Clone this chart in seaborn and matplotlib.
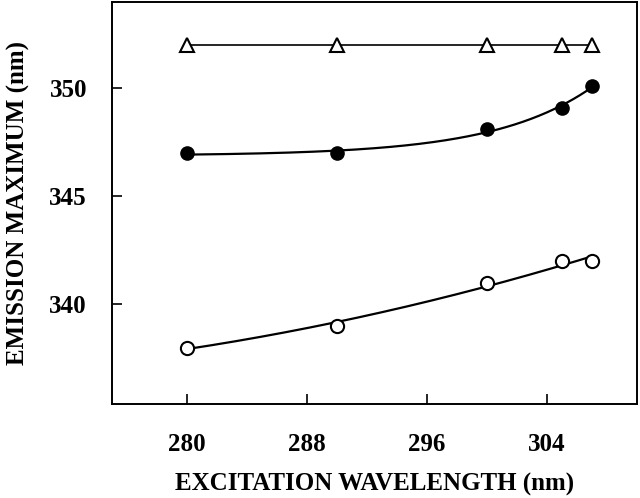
import numpy as np
import pandas as pd
import matplotlib
matplotlib.use("Agg")
import matplotlib.pyplot as plt
import seaborn as sns

# excitation wavelengths (nm) and emission maxima (nm)
excitation = [280, 290, 300, 305, 307]
em_triangle = [352, 352, 352, 352, 352]
em_filled = [347, 347, 348.1, 349.1, 350.1]
em_open = [338, 339, 341, 342, 342]


def exp_fit(x, y):
    # y = a + b*exp((x-280)/t), pick t by grid search, a,b by least squares
    x = np.asarray(x, float)
    y = np.asarray(y, float)
    best = None
    for t in np.linspace(2, 40, 400):
        A = np.column_stack([np.ones_like(x), np.exp((x - 280) / t)])
        coef, res, _, _ = np.linalg.lstsq(A, y, rcond=None)
        err = np.sum((A @ coef - y) ** 2)
        if best is None or err < best[0]:
            best = (err, t, coef)
    _, t, coef = best
    return lambda xx: coef[0] + coef[1] * np.exp((xx - 280) / t)


sns.set_style("white")
plt.rcParams['font.family'] = ['Liberation Serif', 'DejaVu Serif']
plt.rcParams['font.weight'] = 'bold'
plt.rcParams['text.color'] = 'black'
plt.rcParams['axes.labelcolor'] = 'black'
plt.rcParams['xtick.color'] = 'black'
plt.rcParams['ytick.color'] = 'black'

fig = plt.figure(figsize=(6.4, 4.98), dpi=100)
ax = fig.add_axes([0.175, 0.189, 0.82, 0.807])

xs = np.linspace(280, 307, 200)

# triangles: straight connecting line
sns.lineplot(x=excitation, y=em_triangle, color='black', lw=1.2, ax=ax)

# smooth fitted curves through the circle series
f_filled = exp_fit(excitation, em_filled)
sns.lineplot(x=xs, y=f_filled(xs), color='black', lw=1.6, ax=ax)
p_open = np.poly1d(np.polyfit(excitation, em_open, 2))
sns.lineplot(x=xs, y=p_open(xs), color='black', lw=1.6, ax=ax)

ax.plot(excitation, em_triangle, linestyle='none', marker='^', markersize=10,
        markerfacecolor='white', markeredgecolor='black', markeredgewidth=1.5)
ax.plot(excitation, em_filled, linestyle='none', marker='o', markersize=9.5,
        markerfacecolor='black', markeredgecolor='black')
ax.plot(excitation, em_open, linestyle='none', marker='o', markersize=9.5,
        markerfacecolor='white', markeredgecolor='black', markeredgewidth=1.5)

ax.set_xlim(275, 310)
ax.set_ylim(335.4, 354)
ax.set_xticks([280, 288, 296, 304])
ax.set_yticks([340, 345, 350])
ax.tick_params(axis='x', direction='in', length=7, width=1.2, pad=21, labelsize=18,
               bottom=True, top=False)
ax.tick_params(axis='y', direction='in', length=7, width=1.2, pad=18, labelsize=18,
               left=True, right=False)
for s in ax.spines.values():
    s.set_linewidth(1.4)
    s.set_color('black')

ax.set_xlabel("EXCITATION WAVELENGTH (nm)", fontsize=18, fontweight='bold', labelpad=12)
ax.set_ylabel("EMISSION MAXIMUM (nm)", fontsize=18, fontweight='bold', labelpad=14)

fig.savefig("out.png", dpi=100)
